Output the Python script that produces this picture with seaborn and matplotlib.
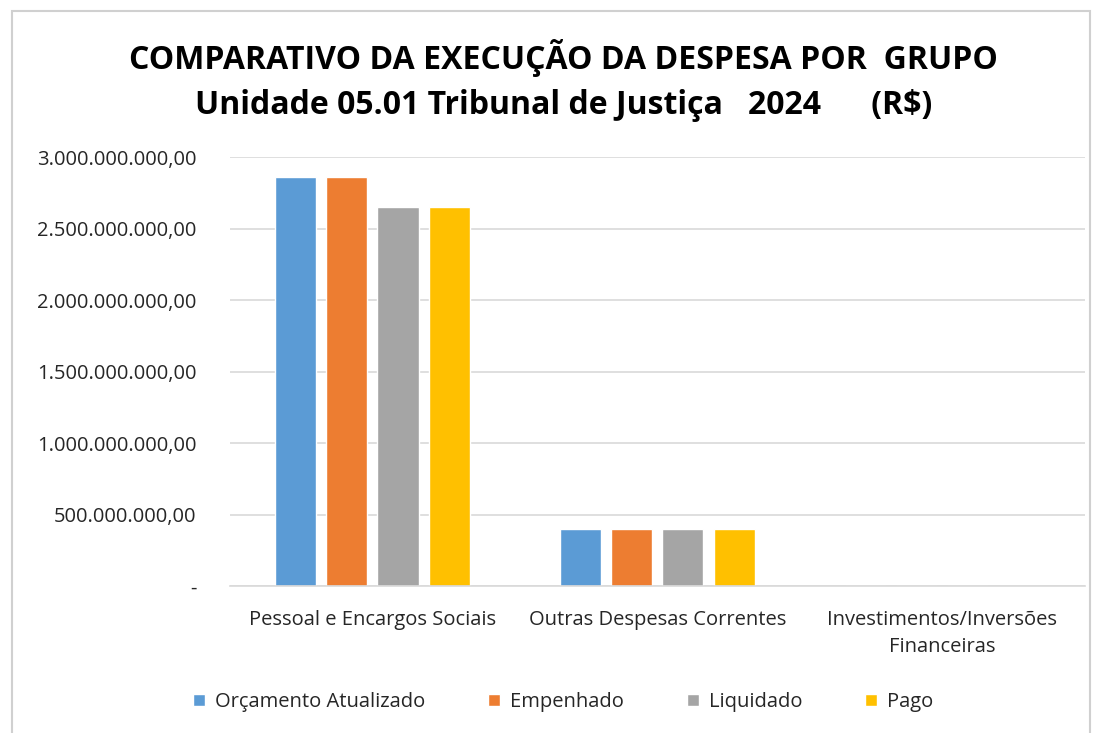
import pandas as pd
import matplotlib.pyplot as plt
import seaborn as sns
from matplotlib.patches import Rectangle
from matplotlib.ticker import FuncFormatter

# dados (R$)
grupos = ["Pessoal e Encargos Sociais", "Outras Despesas Correntes",
          "Investimentos/Inversões\nFinanceiras"]
series = ["Orçamento Atualizado", "Empenhado", "Liquidado", "Pago"]
orcamento = [2858000000, 397000000, 1500000]
empenhado = [2857000000, 397000000, 1200000]
liquidado = [2652000000, 396000000, 800000]
pago = [2650000000, 396000000, 800000]
cores = ["#5B9BD5", "#ED7D31", "#A5A5A5", "#FFC000"]

df = pd.DataFrame({
    "grupo": grupos * 4,
    "serie": [s for s in series for _ in grupos],
    "valor": orcamento + empenhado + liquidado + pago,
})

sns.set_style("white")
plt.rcParams['font.family'] = ['Open Sans', 'DejaVu Sans']

fig = plt.figure(figsize=(11, 7.33), dpi=100)
ax = fig.add_axes([0.209, 0.2005, 0.777, 0.5853])

sns.barplot(data=df, x="grupo", y="valor", hue="serie", order=grupos,
            hue_order=series, palette=cores, width=0.72, gap=0.2,
            saturation=1, ax=ax)

ax.set_ylim(0, 3000000000)
ax.set_xlim(-0.5, 2.5)
ax.set_yticks([0, 500000000, 1000000000, 1500000000, 2000000000,
               2500000000, 3000000000])


def fmt_brl(v, pos):
    if v == 0:
        return "-"
    s = f"{v:,.2f}"
    return s.replace(",", "X").replace(".", ",").replace("X", ".")


ax.yaxis.set_major_formatter(FuncFormatter(fmt_brl))
ax.grid(axis="y", color="#D9D9D9", linewidth=1.2)
ax.set_axisbelow(True)
for lado in ["top", "right", "left"]:
    ax.spines[lado].set_visible(False)
ax.spines["bottom"].set_color("#D9D9D9")
ax.spines["bottom"].set_linewidth(1.2)
ax.tick_params(axis="both", length=0, labelsize=14.5, colors="#262626")
ax.tick_params(axis="x", pad=17)
ax.tick_params(axis="y", pad=24)
for t in ax.get_xticklabels():
    t.set_linespacing(1.5)
ax.set_xlabel("")
ax.set_ylabel("")

leg = ax.legend(loc="upper center", bbox_to_anchor=(0.39, -0.205), ncol=4,
                frameon=False, fontsize=14.5, handlelength=0.6,
                handleheight=0.6, columnspacing=3.1, handletextpad=0.5)
for t in leg.get_texts():
    t.set_color("#262626")

fig.text(0.512, 0.921, "COMPARATIVO DA EXECUÇÃO DA DESPESA POR  GRUPO",
         ha="center", va="center", fontsize=23, fontweight="bold",
         color="black")
fig.text(0.512, 0.856, "Unidade 05.01 Tribunal de Justiça   2024      (R$)",
         ha="center", va="center", fontsize=23, fontweight="bold",
         color="black")

fig.patches.append(Rectangle((0.011, -0.01), 0.98, 0.995,
                             transform=fig.transFigure, fill=False,
                             edgecolor="#D0D0D0", linewidth=1.5))

fig.savefig("out.png", dpi=100)
